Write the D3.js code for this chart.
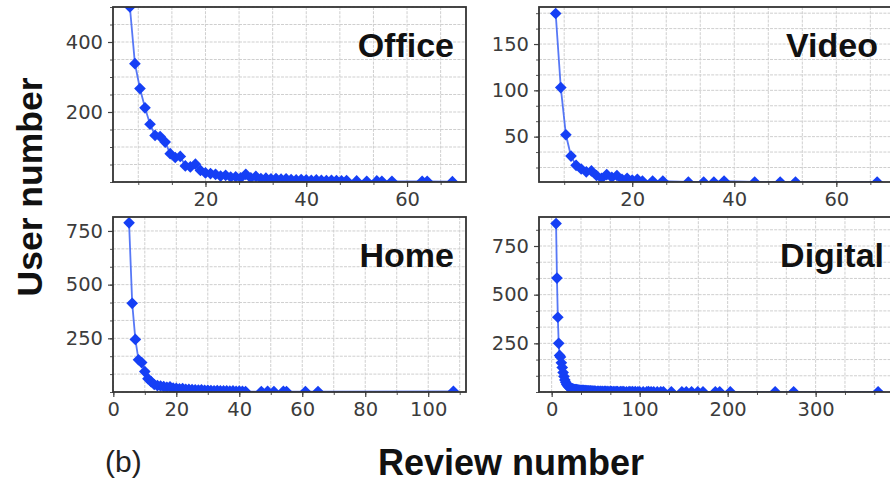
<!DOCTYPE html>
<html>
<head>
<meta charset="utf-8">
<script src="https://cdn.jsdelivr.net/npm/d3@7/dist/d3.min.js"></script>
<style>
  html, body { margin: 0; padding: 0; background: #fff; }
  svg { display: block; }
</style>
</head>
<body>
<svg id="chart" width="890" height="483"></svg>
<script>
// ---------------- DATA ----------------
const panelNames = ["Office", "Video", "Home", "Digital"];

// [review number, user number]
const officePoints = [
  [5,500],[6,338],[7,267],[8,212],[9,165],[10,133],[11,130],[12,114],[13,81],[14,70],
  [15,73],[16,46],[17,43],[18,51],[19,33],[20,26],[21,24],[22,22],[23,17],[24,19],
  [25,14],[26,15],[27,12],[28,22],[29,12],[30,16],[31,10],[32,11],[33,9],[34,10],
  [35,8],[36,9],[37,7],[38,6],[39,7],[40,6],[41,5],[42,6],[43,5],[44,4],
  [45,5],[46,4],[47,3],[48,4],[50,3],[52,2],[54,3],[55,2],[57,2],[63,2],[64,2],[69,1]
];
const videoPoints = [
  [5,183],[6,103],[7,52],[8,29],[9,19],[10,15],[11,12],[12,13],[13,8],[14,5],
  [15,9],[16,6],[17,8],[18,4],[19,5],[20,3],[21,4],[22,2],[24,2],[26,2],
  [31,1],[34,1],[36,1],[38,2],[44,1],[49,1],[52,1],[68,1]
];
const homePoints = [
  [5,788],[6,413],[7,245],[8,150],[9,137],[10,95],[11,62],[12,48],[13,35],[14,30],
  [15,28],[16,25],[17,22],[18,24],[19,18],[20,17],[21,15],[22,16],[23,13],[24,12],
  [25,11],[26,10],[27,9],[28,10],[29,8],[30,8],[31,7],[32,6],[33,7],[34,6],
  [35,5],[36,6],[37,4],[38,5],[39,3],[40,4],[41,3],[42,2],
  [47,2],[49,3],[51,2],[54,3],[55,2],[61,2],[65,2],[108,3]
];
const digitalPoints = [
  [5,865],[6,585],[7,384],[8,250],[9,188],[10,180],[11,150],[12,126],[13,100],[14,80],
  [15,62],[16,50],[17,40],[18,33],[19,28],[20,24],[21,21],[22,19],[23,17],[24,16],
  [25,14],[26,13],[27,12],[28,12],[29,11],[30,10],[31,10],[32,9],[33,9],[34,8],
  [35,8],[36,8],[37,7],[38,7],[39,7],[40,6],[41,6],[42,6],[43,5],[44,6],
  [45,5],[46,5],[47,5],[48,4],[49,5],[50,4],[52,4],[53,4],[55,3],[56,4],
  [58,3],[60,3],[61,3],[63,3],[65,2],[67,3],[68,2],[70,2],[72,2],[74,2],
  [75,2],[78,2],[80,2],[82,2],[85,1],[88,2],[90,1],[92,2],[95,2],[98,1],
  [100,1],[104,1],[108,1],[110,2],[113,1],[116,1],[120,1],[124,1],[127,1],[136,1],
  [148,1],[153,1],[159,1],[166,1],[172,1],[186,1],[191,1],[203,1],[254,1],[275,1],[371,1]
];

// tick labels
const officeXTicks = [20, 40, 60];
const officeYTicks = [200, 400];
const videoXTicks = [20, 40, 60];
const videoYTicks = [50, 100, 150];
const homeXTicks = [0, 20, 40, 60, 80, 100];
const homeYTicks = [250, 500, 750];
const digitalXTicks = [0, 100, 200, 300];
const digitalYTicks = [250, 500, 750];

// minor tick steps
const officeMinor = { x: 20 / 3, y: 50 };
const videoMinor = { x: 20 / 3, y: 50 / 3 };
const homeMinor = { x: 10, y: 250 / 3 };
const digitalMinor = { x: 100 / 3, y: 250 / 3 };

const axisTitleX = "Review number";
const axisTitleY = "User number";
const panelTag = "(b)";

// ---------------- LAYOUT ----------------
const svg = d3.select("#chart");
const H = 175;
const panels = [
  { name: panelNames[0], pts: officePoints, left: 113, top: 7, w: 353,
    xDom: [1.65, 71.7], yDom: [0, 500], xT: officeXTicks, yT: officeYTicks, minor: officeMinor, titleEnd: 12 },
  { name: panelNames[1], pts: videoPoints, left: 539, top: 7, w: 356,
    xDom: [1.73, 71.5], yDom: [1, 190], xT: videoXTicks, yT: videoYTicks, minor: videoMinor, titleEnd: 17 },
  { name: panelNames[2], pts: homePoints, left: 113, top: 217, w: 353,
    xDom: [-0.1, 112.0], yDom: [0, 815], xT: homeXTicks, yT: homeYTicks, minor: homeMinor, titleEnd: 12 },
  { name: panelNames[3], pts: digitalPoints, left: 539, top: 217, w: 356,
    xDom: [-14.4, 390.2], yDom: [0, 899], xT: digitalXTicks, yT: digitalYTicks, minor: digitalMinor, titleEnd: 11 }
];

const blue = "#153ff5";
const diamond = {
  draw(ctx, size) {
    const r = Math.sqrt(size / 2);
    ctx.moveTo(0, -r); ctx.lineTo(r, 0); ctx.lineTo(0, r); ctx.lineTo(-r, 0); ctx.closePath();
  }
};
const tickFont = "'DejaVu Sans', sans-serif";
const titleFont = "'Liberation Sans', Arial, sans-serif";

function minorValues(dom, step) {
  const lo = Math.ceil(Math.min(...dom) / step - 1e-9);
  const hi = Math.floor(Math.max(...dom) / step + 1e-9);
  const out = [];
  for (let k = lo; k <= hi; k++) out.push(k * step);
  return out;
}

const defs = svg.append("defs");

panels.forEach((p, i) => {
  const g = svg.append("g").attr("transform", `translate(${p.left},${p.top})`);
  const x = d3.scaleLinear().domain(p.xDom).range([0, p.w]);
  const y = d3.scaleLinear().domain(p.yDom).range([H, 0]);

  const xMinor = minorValues(p.xDom, p.minor.x);
  const yMinor = minorValues(p.yDom, p.minor.y);

  // grid
  const grid = g.append("g").attr("class", "grid");
  grid.selectAll("line.vx").data(xMinor).join("line")
    .attr("x1", d => x(d)).attr("x2", d => x(d)).attr("y1", 0).attr("y2", H)
    .attr("stroke", "#cfcfcf").attr("stroke-width", 1).attr("stroke-dasharray", "3,1.2");
  grid.selectAll("line.hy").data(yMinor).join("line")
    .attr("y1", d => y(d)).attr("y2", d => y(d)).attr("x1", 0).attr("x2", p.w)
    .attr("stroke", "#cfcfcf").attr("stroke-width", 1).attr("stroke-dasharray", "3,1.2");

  // clip
  const clipId = "clip" + i;
  defs.append("clipPath").attr("id", clipId)
    .append("rect").attr("width", p.w).attr("height", H);

  const plot = g.append("g").attr("clip-path", `url(#${clipId})`);
  const line = d3.line().x(d => x(d[0])).y(d => y(d[1]));
  plot.append("path").datum(p.pts).attr("d", line)
    .attr("fill", "none").attr("stroke", "#3a60f5").attr("stroke-width", 1.8).attr("stroke-opacity", 0.85);
  plot.selectAll("path.pt").data(p.pts).join("path")
    .attr("class", "pt")
    .attr("transform", d => `translate(${x(d[0])},${y(d[1])})`)
    .attr("d", d3.symbol().type(diamond).size(68))
    .attr("fill", blue);

  // minor ticks
  const xMinorAxis = d3.axisBottom(x).tickValues(xMinor).tickSize(3).tickFormat("");
  const yMinorAxis = d3.axisLeft(y).tickValues(yMinor).tickSize(3).tickFormat("");
  [g.append("g").attr("transform", `translate(0,${H})`).call(xMinorAxis),
   g.append("g").call(yMinorAxis)].forEach(a => {
    a.select(".domain").remove();
    a.selectAll("line").attr("stroke", "#555");
  });

  // major ticks
  const xAxis = d3.axisBottom(x).tickValues(p.xT).tickSize(5).tickPadding(5).tickFormat(d3.format("d"));
  const yAxis = d3.axisLeft(y).tickValues(p.yT).tickSize(5).tickPadding(5).tickFormat(d3.format("d"));
  const gx = g.append("g").attr("transform", `translate(0,${H})`).call(xAxis);
  const gy = g.append("g").call(yAxis);
  [gx, gy].forEach(a => {
    a.select(".domain").remove();
    a.selectAll("line").attr("stroke", "#444").attr("stroke-width", 1.2);
    a.selectAll("text").attr("fill", "#3c3c3c").style("font-family", tickFont).style("font-size", "19.5px");
  });

  // frame
  g.append("rect").attr("width", p.w).attr("height", H)
    .attr("fill", "none").attr("stroke", "#333").attr("stroke-width", 1.8);

  // title
  g.append("text")
    .attr("x", p.w - p.titleEnd).attr("y", 50)
    .attr("text-anchor", "end")
    .style("font-family", titleFont)
    .style("font-weight", "bold").style("font-size", "34px")
    .attr("fill", "#111")
    .text(p.name);
});

// axis titles
svg.append("text")
  .attr("transform", "translate(42,187) rotate(-90)")
  .attr("text-anchor", "middle")
  .style("font-family", titleFont)
  .style("font-weight", "bold").style("font-size", "35.5px")
  .attr("fill", "#111")
  .text(axisTitleY);

svg.append("text")
  .attr("x", 511).attr("y", 475)
  .attr("text-anchor", "middle")
  .style("font-family", titleFont)
  .style("font-weight", "bold").style("font-size", "36px")
  .attr("fill", "#111")
  .text(axisTitleX);

svg.append("text")
  .attr("x", 105).attr("y", 472)
  .style("font-family", titleFont)
  .style("font-size", "30px")
  .attr("fill", "#222")
  .text(panelTag);
</script>
</body>
</html>
